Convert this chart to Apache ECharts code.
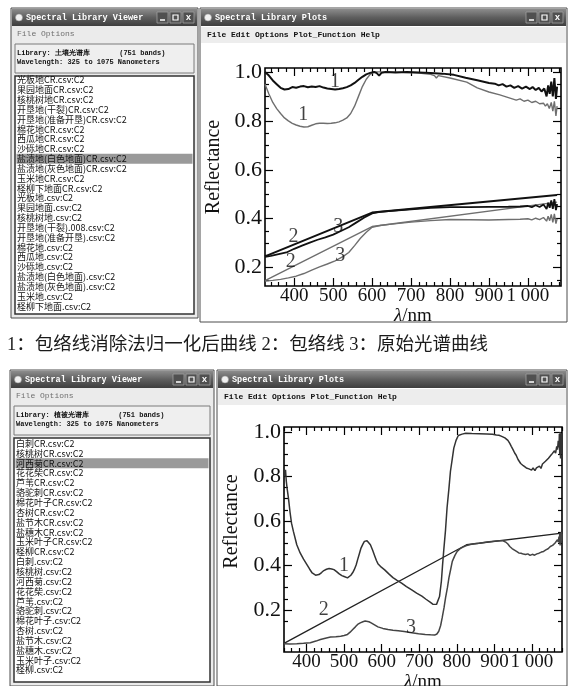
<!DOCTYPE html>
<html>
<head>
<meta charset="utf-8">
<script src="https://cdn.jsdelivr.net/npm/echarts@6/dist/echarts.min.js"></script>
<style>
html, body { margin: 0; padding: 0; background: #fff; }
#main { width: 571px; height: 686px; }
</style>
</head>
<body>
<div id="main"></div>
<script>
// list contents of the two library viewers
var soilItems = [
  '光板地CR.csv:C2', '果园地面CR.csv:C2', '核桃树地CR.csv:C2', '开垦地(干裂)CR.csv:C2',
  '开垦地(准备开垦)CR.csv:C2', '棉花地CR.csv:C2', '西瓜地CR.csv:C2', '沙砾地CR.csv:C2',
  '盐渍地(白色地面)CR.csv:C2', '盐渍地(灰色地面)CR.csv:C2', '玉米地CR.csv:C2', '柽柳下地面CR.csv:C2',
  '光板地.csv:C2', '果园地面.csv:C2', '核桃树地.csv:C2', '开垦地(干裂).008.csv:C2',
  '开垦地(准备开垦).csv:C2', '棉花地.csv:C2', '西瓜地.csv:C2', '沙砾地.csv:C2',
  '盐渍地(白色地面).csv:C2', '盐渍地(灰色地面).csv:C2', '玉米地.csv:C2', '柽柳下地面.csv:C2'
];
var vegItems = [
  '白刺CR.csv:C2', '核桃树CR.csv:C2', '河西菊CR.csv:C2', '花花柴CR.csv:C2', '芦苇CR.csv:C2',
  '骆驼刺CR.csv:C2', '棉花叶子CR.csv:C2', '杏树CR.csv:C2', '盐节木CR.csv:C2', '盐穗木CR.csv:C2',
  '玉米叶子CR.csv:C2', '柽柳CR.csv:C2',
  '白刺.csv:C2', '核桃树.csv:C2', '河西菊.csv:C2', '花花柴.csv:C2', '芦苇.csv:C2',
  '骆驼刺.csv:C2', '棉花叶子.csv:C2', '杏树.csv:C2', '盐节木.csv:C2', '盐穗木.csv:C2',
  '玉米叶子.csv:C2', '柽柳.csv:C2'
];
var soilSelected = 8;
var vegSelected = 2;

var xTicks = [400, 500, 600, 700, 800, 900, 1000];
var yTicks = [0.2, 0.4, 0.6, 0.8, 1.0];

// ---- soil plot (top) ----
// 1 (black): continuum removed, white saline soil
var soilCR1a = [[325,1.0],[335,0.985],[345,0.965],[355,0.95],[365,0.935],[375,0.928],[385,0.93],[395,0.938],[405,0.935],[415,0.94],[425,0.942],[435,0.937],[445,0.94],[455,0.938],[465,0.942],[475,0.936],[485,0.932],[495,0.93],[505,0.928],[515,0.93],[525,0.933],[535,0.938],[545,0.945],[555,0.955],[565,0.968],[575,0.98],[585,0.99],[595,0.996],[605,1.0],[612,0.995],[618,0.985],[624,0.996],[635,1.0],[660,0.998],[690,1.0],[720,0.998],[750,0.996],[780,0.993],[810,0.988],[840,0.976],[870,0.966],[900,0.955],[915,0.952],[925,0.945],[935,0.95],[945,0.94],[955,0.945],[965,0.935],[975,0.942],[985,0.932],[995,0.94],[1005,0.93],[1012,0.938],[1020,0.926],[1028,0.935],[1035,0.92],[1042,0.932],[1048,0.9],[1052,0.945],[1056,0.91],[1060,0.96],[1064,0.9],[1068,0.975],[1072,0.89],[1075,0.94]];
// 1 (gray): continuum removed, gray saline soil
var soilCR1b = [[325,0.95],[335,0.91],[345,0.875],[355,0.85],[365,0.83],[375,0.812],[385,0.8],[395,0.79],[405,0.783],[415,0.778],[425,0.775],[435,0.776],[445,0.782],[455,0.788],[465,0.79],[475,0.79],[485,0.789],[495,0.79],[505,0.792],[515,0.796],[525,0.803],[535,0.812],[545,0.83],[555,0.86],[565,0.9],[575,0.94],[585,0.97],[595,0.99],[605,1.0],[640,1.0],[680,0.998],[720,0.995],[750,0.99],[760,0.985],[765,0.975],[770,0.985],[800,0.975],[843,0.958],[870,0.935],[900,0.918],[928,0.906],[950,0.895],[960,0.89],[970,0.885],[980,0.89],[990,0.88],[1000,0.885],[1010,0.875],[1020,0.88],[1030,0.87],[1040,0.872],[1045,0.86],[1050,0.87],[1055,0.85],[1060,0.875],[1064,0.84],[1068,0.88],[1072,0.82],[1075,0.86]];
// 2: hulls
var soilHull2a = [[325,0.246],[600,0.425],[1075,0.497]];
var soilHull2b = [[325,0.147],[600,0.368],[1075,0.468]];
// 3: original spectra
var soilRaw3a = [[325,0.244],[340,0.248],[360,0.255],[380,0.262],[400,0.277],[420,0.29],[440,0.302],[460,0.314],[480,0.324],[500,0.335],[520,0.35],[540,0.365],[560,0.385],[580,0.405],[600,0.422],[620,0.428],[650,0.432],[700,0.438],[750,0.444],[800,0.447],[850,0.447],[900,0.448],[950,0.449],[980,0.45],[1000,0.452],[1010,0.447],[1020,0.455],[1030,0.448],[1040,0.458],[1048,0.44],[1052,0.465],[1056,0.445],[1060,0.475],[1064,0.44],[1068,0.48],[1072,0.435],[1075,0.46]];
var soilRaw3b = [[325,0.145],[345,0.148],[365,0.152],[385,0.158],[405,0.165],[425,0.176],[445,0.19],[465,0.203],[485,0.215],[505,0.228],[525,0.245],[540,0.262],[555,0.29],[570,0.32],[585,0.345],[600,0.365],[620,0.372],[650,0.378],[700,0.386],[750,0.392],[800,0.397],[850,0.396],[900,0.395],[950,0.397],[980,0.398],[1000,0.4],[1010,0.395],[1020,0.402],[1030,0.396],[1040,0.405],[1048,0.39],[1052,0.41],[1056,0.392],[1060,0.418],[1064,0.385],[1068,0.42],[1072,0.38],[1075,0.4]];
var soilTags = [[505,0.96,'1'],[423,0.824,'1'],[398,0.328,'2'],[391,0.226,'2'],[513,0.369,'3'],[518,0.249,'3']];

// ---- vegetation plot (bottom) ----
var vegCR1 = [[340,0.84],[342,0.8],[344,0.83],[346,0.78],[348,0.75],[352,0.7],[356,0.64],[360,0.59],[365,0.553],[370,0.52],[374,0.493],[383,0.456],[392,0.428],[401,0.404],[408,0.384],[415,0.366],[424,0.356],[433,0.359],[440,0.368],[446,0.377],[453,0.383],[460,0.386],[467,0.384],[473,0.381],[480,0.372],[487,0.362],[494,0.354],[500,0.35],[509,0.344],[514,0.348],[518,0.356],[523,0.368],[527,0.381],[532,0.402],[536,0.426],[541,0.455],[545,0.478],[550,0.496],[554,0.508],[561,0.511],[566,0.503],[570,0.493],[576,0.468],[581,0.445],[586,0.422],[590,0.408],[599,0.392],[608,0.38],[619,0.362],[630,0.345],[641,0.333],[653,0.32],[666,0.305],[680,0.29],[693,0.276],[707,0.262],[718,0.248],[729,0.235],[736,0.226],[741,0.222],[746,0.225],[750,0.232],[754,0.26],[759,0.33],[762,0.4],[765,0.463],[770,0.56],[774,0.658],[779,0.745],[783,0.822],[788,0.88],[792,0.927],[798,0.962],[804,0.984],[814,0.99],[824,0.994],[840,0.993],[860,0.992],[880,0.991],[895,0.989],[905,0.986],[912,0.985],[918,0.981],[923,0.979],[928,0.973],[932,0.968],[936,0.962],[941,0.948],[945,0.935],[950,0.919],[954,0.905],[958,0.895],[963,0.876],[967,0.868],[970,0.858],[974,0.862],[977,0.848],[981,0.852],[985,0.838],[988,0.846],[992,0.834],[995,0.842],[999,0.828],[1003,0.838],[1008,0.826],[1012,0.838],[1016,0.83],[1020,0.846],[1024,0.836],[1028,0.856],[1032,0.848],[1036,0.868],[1040,0.862],[1044,0.882],[1048,0.876],[1052,0.898],[1056,0.89],[1060,0.915],[1063,0.905],[1066,0.935],[1068,0.92],[1070,0.96],[1072,0.93],[1073,0.99],[1074,0.9],[1075,1.0],[1076,0.88],[1077,0.97],[1078,0.9],[1079,0.99],[1080,0.93]];
var vegHull2 = [[340,0.05],[826,0.493],[1080,0.545]];
var vegRaw3 = [[340,0.048],[355,0.047],[374,0.048],[392,0.05],[410,0.053],[425,0.06],[437,0.067],[450,0.073],[464,0.078],[478,0.08],[491,0.082],[500,0.085],[509,0.09],[516,0.1],[523,0.112],[530,0.124],[536,0.135],[543,0.142],[550,0.147],[556,0.15],[561,0.15],[566,0.147],[572,0.142],[581,0.133],[590,0.124],[603,0.117],[617,0.112],[630,0.109],[644,0.107],[660,0.103],[680,0.097],[698,0.093],[716,0.09],[730,0.088],[741,0.087],[747,0.092],[752,0.104],[757,0.13],[761,0.164],[766,0.21],[770,0.254],[775,0.3],[779,0.344],[784,0.385],[788,0.418],[795,0.445],[801,0.463],[808,0.474],[815,0.481],[824,0.488],[833,0.493],[846,0.497],[860,0.5],[880,0.505],[905,0.51],[915,0.511],[923,0.511],[930,0.505],[936,0.496],[941,0.485],[947,0.476],[952,0.468],[959,0.463],[965,0.456],[971,0.455],[977,0.451],[983,0.449],[989,0.452],[995,0.445],[1001,0.45],[1007,0.446],[1013,0.452],[1019,0.455],[1025,0.46],[1031,0.463],[1037,0.47],[1043,0.475],[1049,0.485],[1055,0.49],[1061,0.5],[1065,0.505],[1068,0.515],[1070,0.505],[1072,0.53],[1073,0.5],[1074,0.545],[1075,0.49],[1076,0.54],[1077,0.5],[1078,0.55],[1079,0.51],[1080,0.54]];
var vegTags = [[500,0.40,'1'],[446,0.2,'2'],[678,0.12,'3']];

var caption = '1：包络线消除法归一化后曲线 2：包络线 3：原始光谱曲线';

var serif = 'Liberation Serif';
var mono = '"Liberation Mono", "DejaVu Sans Mono", monospace';

// ---- window chrome (graphic elements) ----
var chrome = [];
function add(el) { el.z = -10; el.z2 = chrome.length; el.silent = true; chrome.push(el); }
function box(x, y, w, h, fill, stroke, lw) {
  add({ type: 'rect', shape: { x: x, y: y, width: w, height: h },
        style: { fill: fill || 'none', stroke: stroke || 'none', lineWidth: lw || 0 } });
}
function txt(x, y, s, color, font, align) {
  add({ type: 'text', x: x, y: y,
        style: { text: s, fill: color, font: font, align: align || 'left', verticalAlign: 'middle' } });
}
function windowFrame(x, y, w, h, title, bodyFill) {
  box(x, y, w, h, bodyFill, '#4d4d4d', 1);
  add({ type: 'rect', shape: { x: x + 1, y: y + 1, width: w - 2, height: 17 },
        style: { fill: new echarts.graphic.LinearGradient(0, 0, 0, 1, [
          { offset: 0, color: '#8c8c8c' }, { offset: 0.5, color: '#5e5e5e' }, { offset: 1, color: '#3e3e3e' }]) } });
  add({ type: 'circle', shape: { cx: x + 8, cy: y + 9.5, r: 3.5 }, style: { fill: '#f0f0f0', stroke: '#999', lineWidth: 0.5 } });
  txt(x + 15, y + 10, title, '#ffffff', 'bold 8.5px ' + mono);
  var bx = x + w - 41;
  for (var i = 0; i < 3; i++) box(bx + i * 13, y + 4, 11, 11, '#505050', '#a0a0a0', 0.8);
  add({ type: 'line', shape: { x1: bx + 3, y1: y + 12, x2: bx + 8, y2: y + 12 }, style: { stroke: '#fff', lineWidth: 1.5 } });
  box(bx + 16, y + 7, 5, 5, 'none', '#fff', 1.2);
  txt(bx + 31.5, y + 9.5, 'x', '#fff', 'bold 9px ' + mono, 'center');
}
function listWindow(x, y, w, h, lib, items, sel, y0, step) {
  windowFrame(x, y, w, h, 'Spectral Library Viewer', '#ebebeb');
  txt(x + 6, y + 26, 'File Options', '#707070', '8px ' + mono);
  box(x + 4, y + 36, w - 8, 29, '#efefef', '#7a7a7a', 1);
  txt(x + 6, y + 45, 'Library: ' + lib + '       (751 bands)', '#111', 'bold 7px ' + mono);
  txt(x + 6, y + 54, 'Wavelength: 325 to 1075 Nanometers', '#111', 'bold 7px ' + mono);
  box(x + 4, y + 68, w - 8, h - 72, '#ffffff', '#333', 1.5);
  box(x + 5.5, y0 + sel * step - 5, w - 11, 10, '#9a9a9a');
  items.forEach(function (s, i) {
    txt(x + 6, y0 + i * step, s, '#111', '9px "Noto Sans CJK SC"');
  });
}
function plotWindow(x, y, w, h) {
  windowFrame(x, y, w, h, 'Spectral Library Plots', '#ffffff');
  box(x + 1, y + 19, w - 2, 16, '#ededed');
  txt(x + 7, y + 27, 'File Edit Options Plot_Function Help', '#111', 'bold 8px ' + mono);
}

listWindow(11, 8, 187, 310, '土壤光谱库', soilItems, soilSelected, 80, 9.83);
plotWindow(200, 8, 367, 314);
listWindow(10, 370, 204, 316, '植被光谱库', vegItems, vegSelected, 443.5, 9.85);
plotWindow(217, 370, 350, 316);
txt(7, 345, caption, '#1a1a1a', '18.5px "Liberation Serif", "Noto Sans CJK SC"');

// ---- axes: one framed grid per plot, plus an overlaid grid carrying the minor ticks ----
function minorList(a, b, step, majors) {
  var out = [];
  for (var v = a; v <= b + 1e-9; v += step) {
    var r = Math.round(v * 1000) / 1000;
    if (!majors.some(function (m) { return Math.abs(m - r) < 1e-6; })) out.push(r);
  }
  return out;
}
function fmtX(v) { return v === 1000 ? '1 000' : String(v); }
function fmtY(v) { return Number(v).toFixed(1); }

var plots = [
  { left: 265, top: 68, width: 296, height: 218, x: [325, 1085], y: [0.125, 1.016], yGap: 40, yPad: 20 },
  { left: 284, top: 427, width: 278, height: 225, x: [340, 1080], y: [0.011, 1.022], yGap: 42, yPad: 36 }
];

var grids = [], xAxes = [], yAxes = [];
plots.forEach(function (p) {
  var xMinor = minorList(Math.ceil(p.x[0] / 20) * 20, p.x[1], 20, xTicks);
  var yMinor = minorList(0.15, 1.0, 0.05, yTicks);
  [true, false].forEach(function (major) {
    var g = grids.length;
    grids.push({ left: p.left, top: p.top, width: p.width, height: p.height,
                 outerBoundsMode: 'none', containLabel: false,
                 show: major, borderColor: '#000', borderWidth: 1.6, backgroundColor: 'transparent' });
    var xv = major ? xTicks : xMinor, yv = major ? yTicks : yMinor, len = major ? 8 : 4;
    ['bottom', 'top'].forEach(function (pos) {
      var lab = major && pos === 'bottom';
      var a = { gridIndex: g, type: 'value', position: pos, min: p.x[0], max: p.x[1],
        axisLine: { show: false, onZero: false }, splitLine: { show: false },
        axisTick: { show: true, inside: true, length: len, customValues: xv, lineStyle: { color: '#000', width: 1.2 } },
        axisLabel: { show: lab, customValues: xv, formatter: fmtX, fontFamily: serif, fontSize: 19, color: '#111', margin: 1 } };
      if (lab) {
        a.name = '{i|λ}/nm';
        a.nameLocation = 'middle';
        a.nameGap = 16;
        a.nameTextStyle = { fontFamily: serif, fontSize: 19, color: '#111', verticalAlign: 'top',
          rich: { i: { fontFamily: serif, fontStyle: 'italic', fontSize: 19, color: '#111' } } };
      }
      xAxes.push(a);
    });
    ['left', 'right'].forEach(function (pos) {
      var lab = major && pos === 'left';
      var a = { gridIndex: g, type: 'value', position: pos, min: p.y[0], max: p.y[1],
        axisLine: { show: false, onZero: false }, splitLine: { show: false },
        axisTick: { show: true, inside: true, length: len, customValues: yv, lineStyle: { color: '#000', width: 1.2 } },
        axisLabel: { show: lab, customValues: yv, formatter: fmtY, fontFamily: serif, fontSize: 22, color: '#111', margin: 3 } };
      if (lab) {
        a.name = 'Reflectance';
        a.nameLocation = 'middle';
        a.nameGap = p.yGap;
        a.nameTextStyle = { fontFamily: serif, fontSize: 20, color: '#111', padding: [0, 0, 0, p.yPad] };
      }
      yAxes.push(a);
    });
  });
});

// axis index of each plot's framed grid (each grid owns two x and two y axes)
var TOP = 0, BOTTOM = 4;

function line(data, axis, color, width) {
  return { type: 'line', data: data, xAxisIndex: axis, yAxisIndex: axis, showSymbol: false, symbol: 'none',
           lineStyle: { color: color, width: width }, silent: true, z: 3 };
}
function tags(data, axis) {
  return { type: 'scatter', data: data, xAxisIndex: axis, yAxisIndex: axis, symbolSize: 1, silent: true, z: 4,
           itemStyle: { color: 'rgba(0,0,0,0)' },
           label: { show: true, position: 'inside', formatter: function (p) { return p.value[2]; },
                    fontFamily: serif, fontSize: 20, color: '#111' } };
}

var chart = echarts.init(document.getElementById('main'), null, { renderer: 'canvas' });
chart.setOption({
  animation: false,
  backgroundColor: '#ffffff',
  graphic: { elements: chrome },
  grid: grids,
  xAxis: xAxes,
  yAxis: yAxes,
  series: [
    line(soilHull2b, TOP, '#6f6f6f', 1.4),
    line(soilRaw3b, TOP, '#6f6f6f', 1.4),
    line(soilCR1b, TOP, '#6f6f6f', 1.4),
    line(soilHull2a, TOP, '#111', 2),
    line(soilRaw3a, TOP, '#111', 1.8),
    line(soilCR1a, TOP, '#111', 2),
    tags(soilTags, TOP),
    line(vegHull2, BOTTOM, '#222', 1.3),
    line(vegRaw3, BOTTOM, '#444', 1.5),
    line(vegCR1, BOTTOM, '#333', 1.5),
    tags(vegTags, BOTTOM)
  ]
});
</script>
</body>
</html>
